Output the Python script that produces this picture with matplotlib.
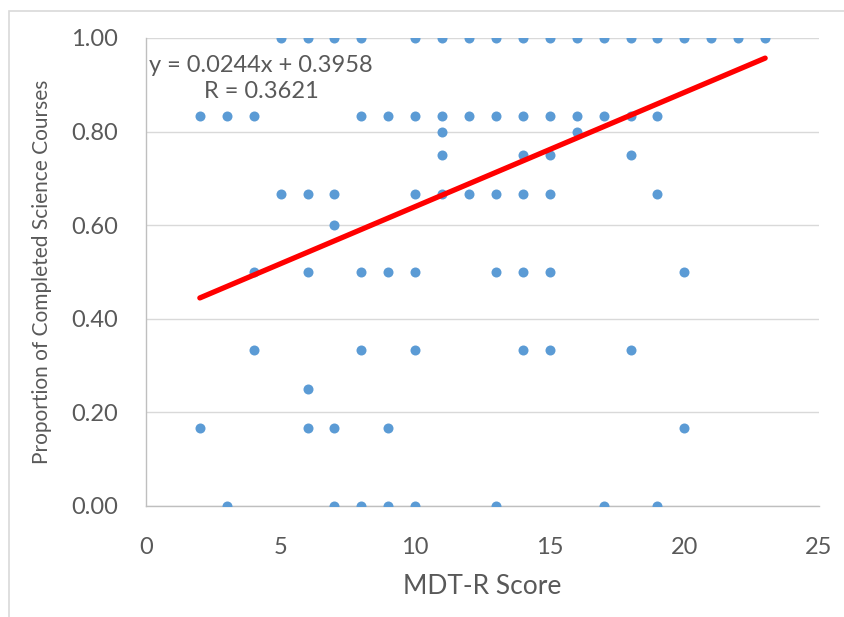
import matplotlib.pyplot as plt
from matplotlib.patches import Rectangle

plt.rcParams['font.family'] = ['Lato', 'DejaVu Sans']

# MDT-R score and proportion of completed science courses, read row by row
mdt_score = [5, 6, 7, 8, 10, 11, 12, 13, 14, 15, 16, 17, 18, 19, 20, 21, 22, 23,
             2, 3, 4, 8, 9, 10, 11, 12, 13, 14, 15, 16, 17, 18, 19,
             11, 16,
             11, 14, 15, 18,
             5, 6, 7, 10, 11, 12, 13, 14, 15, 19,
             7,
             4, 6, 8, 9, 10, 13, 14, 15, 20,
             4, 8, 10, 14, 15, 18,
             6,
             2, 6, 7, 9, 20,
             3, 7, 8, 9, 10, 13, 17, 19]
proportion = [1.0] * 18 + [0.833] * 15 + [0.80] * 2 + [0.75] * 4 + [0.667] * 10 + \
             [0.60] + [0.50] * 9 + [0.333] * 6 + [0.25] + [0.167] * 5 + [0.0] * 8

# linear trendline as printed on the chart
slope = 0.0244
intercept = 0.3958
r_value = 0.3621
trend_x = [2, 23]

text_grey = '#595959'

fig = plt.figure(figsize=(8.45, 6.17), dpi=100)
# chart-area frame (cropped on right/bottom)
fig.patches.append(Rectangle((9 / 845, -0.1), 1.2, 1.1 - 11 / 617, transform=fig.transFigure,
                             fill=False, edgecolor='#d9d9d9', linewidth=1.2))

ax = fig.add_axes([146 / 845, 1 - 506 / 617, 673 / 845, 468 / 617])

ax.set_xlim(0, 25)
ax.set_ylim(0, 1.0)
ax.set_xticks([0, 5, 10, 15, 20, 25])
ax.set_yticks([0, 0.2, 0.4, 0.6, 0.8, 1.0])
ax.set_yticklabels([f'{v:.2f}' for v in [0, 0.2, 0.4, 0.6, 0.8, 1.0]])

ax.grid(axis='y', color='#d9d9d9', linewidth=1.0)
ax.set_axisbelow(True)
for side in ['top', 'right']:
    ax.spines[side].set_visible(False)
for side in ['left', 'bottom']:
    ax.spines[side].set_color('#bfbfbf')
    ax.spines[side].set_linewidth(1.0)
ax.tick_params(axis='both', length=0, labelsize=17, labelcolor=text_grey)
ax.tick_params(axis='y', pad=20)
ax.tick_params(axis='x', pad=22)

ax.scatter(mdt_score, proportion, s=52, color='#5b9bd5', zorder=3, linewidths=0)

trend_y = [slope * x + intercept for x in trend_x]
ax.plot(trend_x, trend_y, color='#ff0000', linewidth=3.8, solid_capstyle='round', zorder=4)

ax.text(0.171, 0.913, f'y = {slope}x + {intercept}\nR = {r_value}', transform=ax.transAxes,
        ha='center', va='center', multialignment='center', fontsize=17, color=text_grey,
        linespacing=1.3, zorder=5)

ax.set_xlabel('MDT-R Score', fontsize=19, color=text_grey, labelpad=12)
ax.set_ylabel('Proportion of Completed Science Courses', fontsize=15, color=text_grey, labelpad=14)

fig.savefig('out.png', dpi=100)
